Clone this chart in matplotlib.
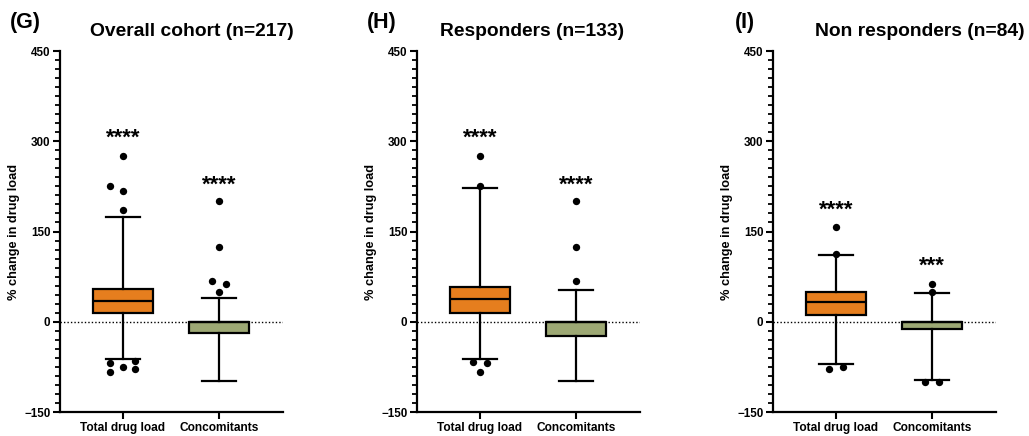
"""Box plots of % change in drug load for three cohorts (panels G, H, I)."""

import matplotlib
matplotlib.use("Agg")
import matplotlib.pyplot as plt
from matplotlib.ticker import MultipleLocator

plt.rcParams["font.family"] = ["Liberation Sans", "DejaVu Sans"]
plt.rcParams["font.weight"] = "bold"

GROUPS = ["Total drug load", "Concomitants"]
TITLES = ["Overall cohort (n=217)", "Responders (n=133)", "Non responders (n=84)"]
LETTERS = ["(G)", "(H)", "(I)"]
COLORS = ["#E67E1E", "#9DA874"]

# box statistics, one row per panel: [total drug load, concomitants]
Q1 = [[14, -19], [14, -23], [12, -12]]
MED = [[34, 0], [37, 0], [33, 0]]
Q3 = [[55, 0], [58, 0], [49, 0]]
WHISLO = [[-62, -99], [-62, -99], [-70, -97]]
WHISHI = [[174, 40], [222, 52], [111, 48]]

# outliers as (value, horizontal spread in category units)
FLIERS = [
    [
        [(275, 0), (226, -0.13), (217, 0), (185, 0), (-68, -0.13), (-66, 0.13),
         (-83, -0.13), (-75, 0), (-78, 0.13)],
        [(201, 0), (125, 0), (67, -0.07), (63, 0.07), (50, 0)],
    ],
    [
        [(275, 0), (226, 0), (-67, -0.07), (-69, 0.07), (-83, 0)],
        [(201, 0), (125, 0), (67, 0)],
    ],
    [
        [(158, 0), (113, 0), (-78, -0.07), (-75, 0.07)],
        [(62, 0), (50, 0), (-100, -0.07), (-100, 0.07)],
    ],
]

STARS = [["****", "****"], ["****", "****"], ["****", "***"]]
STAR_Y = [[305, 227], [305, 227], [186, 92]]

W, H = 1029, 436
AX_LEFT_PX = [60, 417, 773]
AX_W_PX = 223
AX_TOP_PX, AX_BOT_PX = 51, 412
TITLE_X_PX = [192, 532, 920]
LETTER_X_PX = [25, 382, 745]

fig = plt.figure(figsize=(W / 100, H / 100), dpi=100)

for p in range(3):
    ax = fig.add_axes([
        AX_LEFT_PX[p] / W,
        1 - AX_BOT_PX / H,
        AX_W_PX / W,
        (AX_BOT_PX - AX_TOP_PX) / H,
    ])

    ax.axhline(0, color="black", linestyle=(0, (1, 1.5)), linewidth=1.0, zorder=1)

    stats = []
    for g in range(2):
        stats.append({
            "med": MED[p][g], "q1": Q1[p][g], "q3": Q3[p][g],
            "whislo": WHISLO[p][g], "whishi": WHISHI[p][g], "fliers": [],
        })
    bp = ax.bxp(stats, positions=[0, 1], widths=0.63, capwidths=0.35,
                patch_artist=True, showfliers=False,
                boxprops=dict(linewidth=1.6, edgecolor="black"),
                medianprops=dict(color="black", linewidth=1.6),
                whiskerprops=dict(color="black", linewidth=1.6),
                capprops=dict(color="black", linewidth=1.6),
                zorder=2)
    for patch, c in zip(bp["boxes"], COLORS):
        patch.set_facecolor(c)

    for g in range(2):
        vals = [v for v, _ in FLIERS[p][g]]
        xs = [g + dx for _, dx in FLIERS[p][g]]
        ax.scatter(xs, vals, s=28, color="black", zorder=3, linewidths=0)
        ax.text(g, STAR_Y[p][g], STARS[p][g], ha="center", va="center",
                fontsize=16, fontweight="bold")

    ax.set_xlim(-0.656, 1.667)
    ax.set_ylim(-150, 450)
    ax.yaxis.set_major_locator(MultipleLocator(150))
    ax.yaxis.set_minor_locator(MultipleLocator(15))
    ax.set_xticks([0, 1])
    ax.set_xticklabels(GROUPS, fontsize=8.6, fontweight="bold")
    for lab in ax.get_yticklabels():
        lab.set_fontsize(8.4)
        lab.set_fontweight("bold")
    ax.tick_params(axis="both", which="major", direction="out", length=5,
                   width=1.5, pad=2)
    ax.tick_params(axis="y", which="minor", direction="out", length=3.5, width=1.3)
    ax.set_ylabel("% change in drug load", fontsize=9.2, fontweight="bold", labelpad=3)

    for side in ("top", "right"):
        ax.spines[side].set_visible(False)
    for side in ("left", "bottom"):
        ax.spines[side].set_linewidth(1.6)

    fig.text(TITLE_X_PX[p] / W, 1 - 32 / H, TITLES[p], ha="center", va="center",
             fontsize=13.9, fontweight="bold")
    fig.text(LETTER_X_PX[p] / W, 1 - 22.5 / H, LETTERS[p], ha="center", va="center",
             fontsize=15.5, fontweight="bold")

fig.savefig("out.png", dpi=100)
